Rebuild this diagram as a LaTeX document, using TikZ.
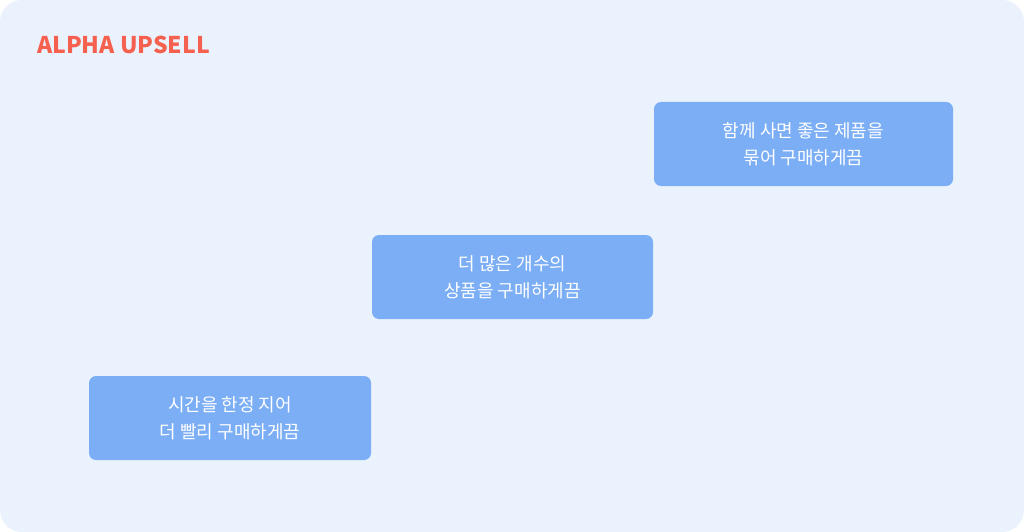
\documentclass[tikz,border=0pt]{standalone}
\usepackage{fontspec}
\setmainfont{Noto Sans CJK KR}
\newfontfamily\kr{Noto Sans CJK KR}
\definecolor{bg}{HTML}{EAF2FD}
\definecolor{boxc}{HTML}{7BAEF5}
\definecolor{titlec}{HTML}{F5604F}
\begin{document}
\begin{tikzpicture}[x=1pt,y=-1pt,
  card/.style={fill=boxc,rounded corners=7pt,minimum width=#1,minimum height=84pt,text=white,align=center,font=\kr\fontsize{18}{27}\selectfont,inner sep=0pt}]
\useasboundingbox (0,0) rectangle (1024,532);
\fill[white] (0,0) rectangle (1024,532);
\fill[bg,rounded corners=22pt] (0,0) rectangle (1024,532);
\node[anchor=west,text=titlec,font=\kr\bfseries\fontsize{23}{26}\selectfont,inner sep=0pt] (title) at (37,45) {ALPHA UPSELL};
\node[card=299pt] (b1) at (803.5,144) {함께 사면 좋은 제품을\\묶어 구매하게끔};
\node[card=281pt] (b2) at (512.5,277) {더 많은 개수의\\상품을 구매하게끔};
\node[card=282pt] (b3) at (230,418) {시간을 한정 지어\\더 빨리 구매하게끔};
\end{tikzpicture}
\end{document}
